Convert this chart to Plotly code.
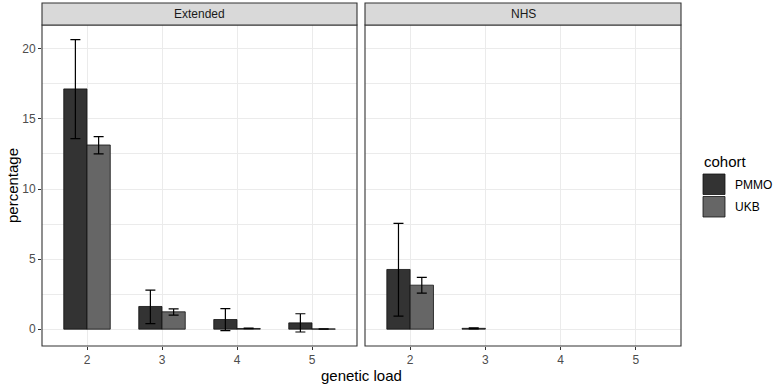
import plotly.graph_objects as go

# ---- data ----
loads = [2, 3, 4, 5]
panels = ["Extended", "NHS"]
cohorts = ["PMMO", "UKB"]

ext_pmmo = [17.14, 1.62, 0.69, 0.45]
ext_pmmo_hi = [20.66, 2.79, 1.47, 1.10]
ext_pmmo_lo = [13.60, 0.40, -0.10, -0.20]
ext_ukb = [13.14, 1.24, 0.05, 0.02]
ext_ukb_hi = [13.74, 1.45, 0.07, 0.03]
ext_ukb_lo = [12.50, 1.00, 0.03, 0.01]

nhs_pmmo = [4.26, 0.06, None, None]
nhs_pmmo_hi = [7.55, 0.10, None, None]
nhs_pmmo_lo = [0.93, 0.02, None, None]
nhs_ukb = [3.14, None, None, None]
nhs_ukb_hi = [3.69, None, None, None]
nhs_ukb_lo = [2.57, None, None, None]

y_ticks = [0, 5, 10, 15, 20]
colors = {"PMMO": "#333333", "UKB": "#666666"}

W, H = 774, 388
FONT = "Liberation Sans, Arial, sans-serif"
def px(x):
    return x / W
def py(y):
    return 1 - y / H

fig = go.Figure()

def add_bars(vals, hi, lo, cohort, xa, ya):
    off = -0.31 if cohort == "PMMO" else 0.0
    plus = [None if v is None else h - v for v, h in zip(vals, hi)]
    minus = [None if v is None else v - l for v, l in zip(vals, lo)]
    fig.add_trace(go.Bar(
        x=loads, y=vals, offset=off, width=0.31,
        marker=dict(color=colors[cohort], line=dict(color="#111111", width=0.8)),
        error_y=dict(type="data", array=plus, arrayminus=minus, symmetric=False,
                     color="#000000", thickness=1.2, width=5),
        xaxis=xa, yaxis=ya, showlegend=False, name=cohort))

add_bars(ext_pmmo, ext_pmmo_hi, ext_pmmo_lo, "PMMO", "x", "y")
add_bars(ext_ukb, ext_ukb_hi, ext_ukb_lo, "UKB", "x", "y")
add_bars(nhs_pmmo, nhs_pmmo_hi, nhs_pmmo_lo, "PMMO", "x2", "y2")
add_bars(nhs_ukb, nhs_ukb_hi, nhs_ukb_lo, "UKB", "x2", "y2")

ydom = [py(346), py(25)]
d1 = [px(42), px(357)]
d2 = [px(365), px(681)]

tickfont = dict(family=FONT, size=12, color="#4D4D4D")
xcommon = dict(range=[1.4, 5.6], tickvals=loads, ticktext=[str(v) for v in loads],
               showgrid=True, gridcolor="#EBEBEB", gridwidth=1.1, zeroline=False,
               ticks="outside", ticklen=3, tickcolor="#333333", tickwidth=1,
               tickfont=tickfont, showline=False, fixedrange=True)
ycommon = dict(range=[-1.2, 21.7], tickvals=y_ticks, showgrid=True, gridcolor="#EBEBEB",
               gridwidth=1.1, zeroline=False, showline=False,
               minor=dict(dtick=2.5, tick0=0, showgrid=True, gridcolor="#EBEBEB", gridwidth=0.6, ticks=""),
               fixedrange=True)

fig.update_layout(
    width=W, height=H, margin=dict(l=0, r=0, t=0, b=0),
    paper_bgcolor="white", plot_bgcolor="white", barmode="overlay",
    xaxis=dict(domain=d1, anchor="y", **xcommon),
    xaxis2=dict(domain=d2, anchor="y2", **xcommon),
    yaxis=dict(domain=ydom, anchor="x", ticks="outside", ticklen=3, tickcolor="#333333",
               tickfont=tickfont, **ycommon),
    yaxis2=dict(domain=ydom, anchor="x2", showticklabels=False, ticks="", **ycommon),
    font=dict(family=FONT),
)

def text_at(x, y, text, size, color="#000000", xanchor="center", angle=0):
    fig.add_annotation(x=px(x), y=py(y), xref="paper", yref="paper", text=text,
                       showarrow=False, xanchor=xanchor, yanchor="middle", textangle=angle,
                       font=dict(size=size, color=color, family=FONT))

shapes = []
for d, name, (l, r) in zip([d1, d2], panels, [(42, 357), (365, 681)]):
    shapes.append(dict(type="rect", xref="paper", yref="paper", x0=d[0], x1=d[1],
                       y0=ydom[0], y1=ydom[1], line=dict(color="#333333", width=1.1),
                       fillcolor="rgba(0,0,0,0)", layer="above"))
    shapes.append(dict(type="rect", xref="paper", yref="paper", x0=d[0], x1=d[1],
                       y0=ydom[1], y1=py(3), line=dict(color="#333333", width=1.1),
                       fillcolor="#D9D9D9", layer="above"))
    text_at((l + r) / 2, 14.5, name, 12, "#1A1A1A")

# legend (manual, ggplot style)
text_at(702, 161, "cohort", 15, xanchor="left")
key_tops = [174, 196.5]
for c, top in zip(cohorts, key_tops):
    shapes.append(dict(type="rect", xref="paper", yref="paper", x0=px(703), x1=px(725),
                       y0=py(top + 20.5), y1=py(top), fillcolor=colors[c],
                       line=dict(color="#111111", width=0.8)))
    text_at(733, top + 10.5, c, 12, xanchor="left")

fig.update_layout(shapes=shapes)

# axis titles
text_at(361.5, 375, "genetic load", 15)
text_at(12, 186, "percentage", 15, angle=-90)

fig.write_html("out.html")
